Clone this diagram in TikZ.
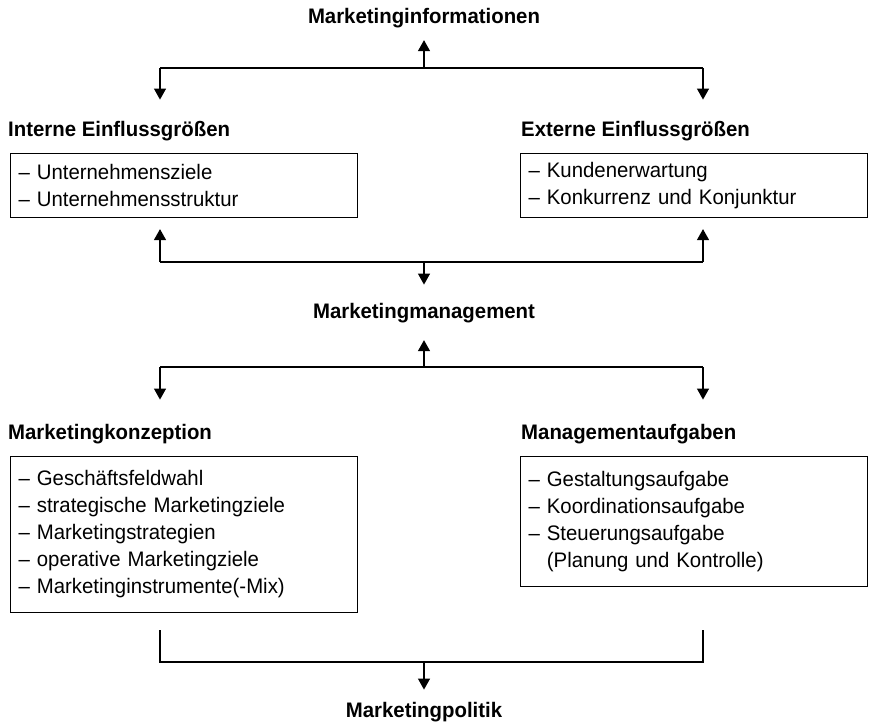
\documentclass[tikz,border=0pt]{standalone}
\usepackage{fontspec}
\setmainfont{Liberation Sans}[FakeStretch=0.97]
\usetikzlibrary{arrows.meta, positioning, calc}
\tikzset{
  head/.style={font=\bfseries\fontsize{21}{24}\selectfont, inner sep=0pt},
  listbox/.style={draw, line width=1.1pt, anchor=north west, align=left,
                  font=\fontsize{21}{27}\selectfont, inner xsep=8pt, inner ysep=0pt,
                  text width=331pt},
  arr/.style={-{Triangle[length=11pt,width=12pt]}, line width=1.2pt},
  conn/.style={line width=1.2pt},
}

\begin{document}
\begin{tikzpicture}[x=1pt, y=-1pt]
  \useasboundingbox (0,0) rectangle (874,727);

  \node[head, anchor=base] (info) at (424,24) {Marketinginformationen};

  \node[head, anchor=base west] (intern) at (8,137) {Interne Einflussgrößen};
  \node[head, anchor=base west] (extern) at (521,137) {Externe Einflussgrößen};
  \node[listbox, minimum height=64pt] (internbox) at (10,153)
    {– Unternehmensziele\\– Unternehmensstruktur};
  \node[listbox, minimum height=64pt] (externbox) at (520,153)
    {– Kundenerwartung\\– Konkurrenz und Konjunktur};

  \node[head, anchor=base] (mgmt) at (424,318) {Marketingmanagement};

  \node[head, anchor=base west] (konz) at (8,439) {Marketingkonzeption};
  \node[head, anchor=base west] (aufg) at (521,439) {Managementaufgaben};
  \node[listbox, minimum height=156pt] (konzbox) at (10,456)
    {– Geschäftsfeldwahl\\– strategische Marketingziele\\– Marketingstrategien\\%
     – operative Marketingziele\\– Marketinginstrumente(-Mix)};
  \node[listbox, minimum height=130pt] (aufgbox) at (520,456)
    {– Gestaltungsaufgabe\\– Koordinationsaufgabe\\– Steuerungsaufgabe\\%
     \phantom{– }(Planung und Kontrolle)};

  \node[head, anchor=base] (politik) at (424,717) {Marketingpolitik};

  % branch points
  \coordinate (a) at (424,68);  \coordinate (al) at (160,68);  \coordinate (ar) at (703,68);
  \coordinate (b) at (424,262); \coordinate (bl) at (160,262); \coordinate (br) at (703,262);
  \coordinate (c) at (424,367); \coordinate (cl) at (160,367); \coordinate (cr) at (703,367);
  \coordinate (d) at (424,662); \coordinate (dl) at (160,630); \coordinate (dr) at (703,630);

  \draw[conn] (al) -- (ar);
  \draw[arr, shorten >=11.5pt] (a) -- (info.south);
  \draw[arr, shorten >=22pt] (al) -- (al |- intern.north);
  \draw[arr, shorten >=22pt] (ar) -- (ar |- extern.north);

  \draw[conn] (bl) -- (br);
  \draw[arr, shorten >=11pt] (bl) -- (bl |- internbox.south);
  \draw[arr, shorten >=11pt] (br) -- (br |- externbox.south);
  \draw[arr, shorten >=18pt] (b) -- (mgmt.north);

  \draw[conn] (cl) -- (cr);
  \draw[arr, shorten >=17.5pt] (c) -- (mgmt.south);
  \draw[arr, shorten >=24pt] (cl) -- (cl |- konz.north);
  \draw[arr, shorten >=24pt] (cr) -- (cr |- aufg.north);

  \draw[conn] (dl) -- (dl |- d) -- (dr |- d) -- (dr);
  \draw[arr, shorten >=12pt] (d) -- (politik.north);
\end{tikzpicture}
\end{document}
